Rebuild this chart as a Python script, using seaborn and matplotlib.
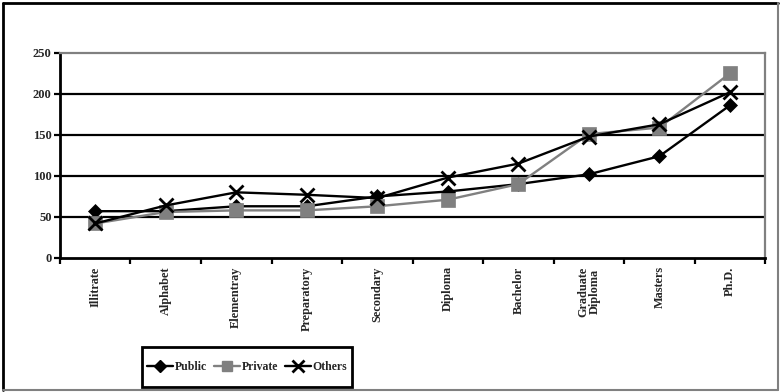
import matplotlib
matplotlib.use("Agg")
import matplotlib.pyplot as plt
import seaborn as sns
import pandas as pd
from matplotlib.lines import Line2D
from matplotlib.patches import Rectangle

levels = ["Illitrate", "Alphabet", "Elementray", "Preparatory", "Secondary",
          "Diploma", "Bachelor", "Graduate\nDiploma", "Masters", "Ph.D."]
public = [57, 57, 63, 63, 75, 81, 90, 102, 124, 186]
private = [42, 56, 58, 58, 63, 71, 90, 151, 159, 225]
others = [42, 64, 80, 77, 73, 98, 115, 148, 163, 202]
y_ticks = [0, 50, 100, 150, 200, 250]

sns.set_theme(style="white")
plt.rcParams["font.family"] = ["Liberation Serif", "DejaVu Serif"]
plt.rcParams["font.weight"] = "bold"

fig = plt.figure(figsize=(7.8, 3.92), dpi=100)
ax = fig.add_axes([0.0769, 0.342, 0.904, 0.523])

pos = list(range(len(levels)))
series = [
    ("Public", public, "black", "D", 7, "black"),
    ("Private", private, "#808080", "s", 10, "#808080"),
    ("Others", others, "black", "x", 10, "black"),
]
for name, vals, col, mk, ms, mc in series:
    df = pd.DataFrame({"pos": pos, "value": vals})
    sns.lineplot(data=df, x="pos", y="value", ax=ax, color=col, lw=1.7,
                 marker=mk, markersize=ms, markerfacecolor=mc,
                 markeredgecolor=mc, markeredgewidth=2 if mk == "x" else 0.5,
                 legend=False)

ax.set_xlim(-0.5, len(levels) - 0.5)
ax.set_ylim(0, 250)
ax.set_yticks(y_ticks)
ax.set_yticklabels([str(t) for t in y_ticks], fontsize=9, fontweight="bold")
for t in y_ticks[1:-1]:
    ax.axhline(t, color="black", lw=1.6, zorder=0)

# category ticks sit on the boundaries between levels
ax.set_xticks([p - 0.5 for p in range(len(levels) + 1)])
ax.set_xticklabels([])
ax.set_xticks(pos, minor=True)
ax.set_xticklabels(levels, minor=True, rotation=90, fontsize=8.8,
                   fontweight="bold", va="top", linespacing=0.95)
ax.tick_params(axis="x", which="minor", length=0, pad=6)
ax.tick_params(axis="x", which="major", direction="out", length=4, width=1.6,
               color="black", bottom=True)
ax.tick_params(axis="y", direction="out", length=4, width=1.6, color="black",
               left=True, pad=2)
ax.set_xlabel("")
ax.set_ylabel("")

for side in ["left", "bottom"]:
    ax.spines[side].set_color("black")
    ax.spines[side].set_linewidth(2)
for side in ["top", "right"]:
    ax.spines[side].set_color("#808080")
    ax.spines[side].set_linewidth(1.6)

handles = [
    Line2D([], [], color="black", lw=1.7, marker="D", markersize=6,
           markerfacecolor="black", markeredgecolor="black"),
    Line2D([], [], color="#808080", lw=1.7, marker="s", markersize=7,
           markerfacecolor="#808080", markeredgecolor="#808080"),
    Line2D([], [], color="black", lw=1.7, marker="x", markersize=8,
           markeredgewidth=2),
]
leg = fig.legend(handles, ["Public", "Private", "Others"], ncol=3,
                 loc="center", bbox_to_anchor=(247 / 780, 1 - 367 / 392),
                 frameon=False,
                 prop={"family": "Liberation Serif", "weight": "bold", "size": 8.5},
                 handlelength=2.2, handletextpad=0.15, columnspacing=0.6,
                 borderpad=0.2)
# legend box
fig.add_artist(Rectangle((142 / 780, 1 - 387 / 392), 210 / 780, 40 / 392,
                         transform=fig.transFigure, fill=False,
                         edgecolor="black", lw=2))

# outer chart border
fig.add_artist(Line2D([0.004, 0.004], [0.004, 0.993], color="black", lw=2,
                      transform=fig.transFigure))
fig.add_artist(Line2D([0.004, 0.997], [0.993, 0.993], color="black", lw=2,
                      transform=fig.transFigure))
fig.add_artist(Line2D([0.997, 0.997], [0.004, 0.993], color="#808080", lw=1.5,
                      transform=fig.transFigure))
fig.add_artist(Line2D([0.004, 0.997], [0.004, 0.004], color="#808080", lw=1.5,
                      transform=fig.transFigure))

fig.savefig("out.png", dpi=100)
